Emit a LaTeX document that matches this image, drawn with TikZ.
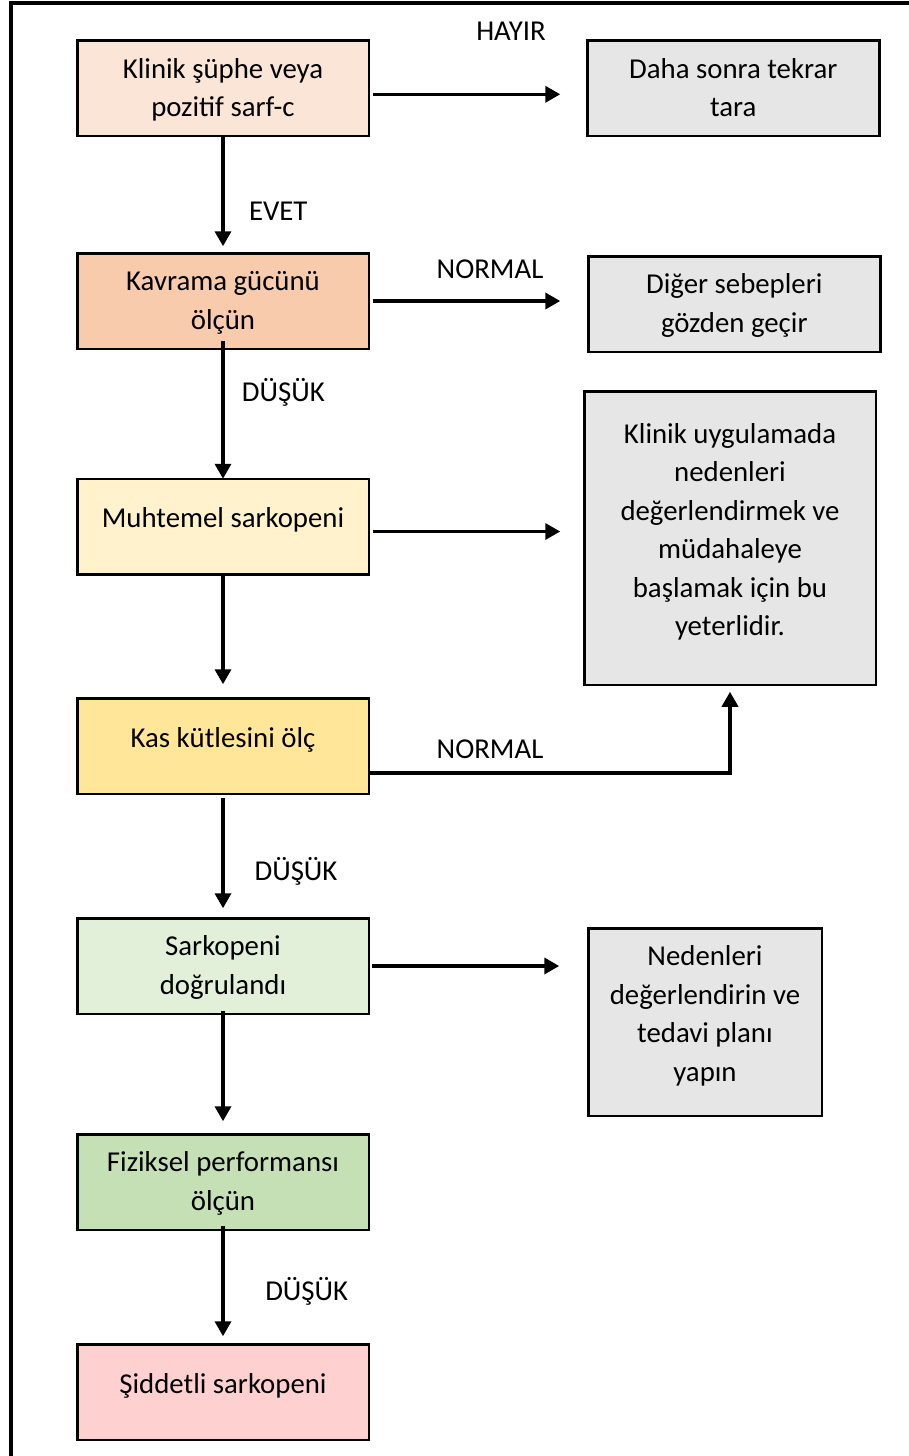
\documentclass[tikz,border=0pt]{standalone}
\usepackage{fontspec}
\setmainfont{Carlito}
\usetikzlibrary{arrows.meta,calc}
\definecolor{peachlight}{HTML}{FBE5D6}
\definecolor{peach}{HTML}{F8CBAD}
\definecolor{creamlight}{HTML}{FFF2CC}
\definecolor{cream}{HTML}{FFE699}
\definecolor{greenlight}{HTML}{E2F0D9}
\definecolor{sagegreen}{HTML}{C5E0B4}
\definecolor{rosepink}{HTML}{FFD0D0}
\definecolor{greybox}{HTML}{E6E6E6}
\newcommand{\boxlines}[1]{\begin{tabular}{@{}c@{}}#1\end{tabular}}

\begin{document}
\begin{tikzpicture}[y=1pt, x=1pt, yscale=-1, inner sep=0pt, outer sep=0pt,
  font=\fontsize{28.8pt}{38.4pt}\selectfont,
  box/.style={draw=black, line width=2.5pt, text height=15pt, text depth=0pt},
  leftbox/.style={box, minimum width=291.5pt, minimum height=95.5pt},
  single/.style={text height=-5pt},
  flow/.style={draw=black, line width=3.5pt, -{Triangle[length=15pt,width=16pt]}}]
  \useasboundingbox (0,0) rectangle (909,1456);
  \path[draw=black, line width=4pt] (10.5,3.3) rectangle (915,1462);

  \node[leftbox, fill=peachlight] (rect101) at (223,88.3)
    {\boxlines{Klinik şüphe veya\\pozitif sarf-c}};
  \node[leftbox, fill=peach] (rect102) at (223,301)
    {\boxlines{Kavrama gücünü\\ölçün}};
  \node[leftbox, single, fill=creamlight] (rect103) at (223,526.5)
    {\boxlines{Muhtemel sarkopeni}};
  \node[leftbox, single, fill=cream] (rect104) at (223,746)
    {\boxlines{Kas kütlesini ölç}};
  \node[leftbox, fill=greenlight] (rect105) at (223,966)
    {\boxlines{Sarkopeni\\doğrulandı}};
  \node[leftbox, fill=sagegreen] (rect106) at (223,1182)
    {\boxlines{Fiziksel performansı\\ölçün}};
  \node[leftbox, single, fill=rosepink] (rect107) at (223,1392)
    {\boxlines{Şiddetli sarkopeni}};

  \node[box, fill=greybox, minimum width=292pt, minimum height=95.5pt]
    (rect201) at (733.3,88.3) {\boxlines{Daha sonra tekrar\\tara}};
  \node[box, fill=greybox, minimum width=292pt, minimum height=95.5pt]
    (rect202) at (734.3,304) {\boxlines{Diğer sebepleri\\gözden geçir}};
  \node[box, single, fill=greybox, minimum width=291.5pt, minimum height=293.5pt]
    (rect203) at (730,538) {\boxlines{Klinik uygulamada\\nedenleri\\değerlendirmek ve\\müdahaleye\\başlamak için bu\\yeterlidir.}};
  \node[box, single, fill=greybox, minimum width=233.5pt, minimum height=187.5pt]
    (rect204) at (705,1022) {\boxlines{Nedenleri\\değerlendirin ve\\tedavi planı\\yapın}};

  \coordinate (path301) at ($(rect101.east)+(0,6)$);
  \coordinate (path303) at ($(rect103.east)+(0,5)$);
  \coordinate (path304) at ($(rect104.east)+(0,27)$);

  \draw[flow, shorten <=4pt, shorten >=27pt] (path301) -- (path301 -| rect201.west);
  \draw[flow, shorten <=4pt, shorten >=28pt] (rect102.east) -- (rect102.east -| rect202.west);
  \draw[flow, shorten <=4pt, shorten >=24pt] (path303) -- (path303 -| rect203.west);
  \draw[flow, shorten >=7pt] (path304) -| (rect203.south);
  \draw[flow, shorten <=3pt, shorten >=29pt] (rect105.east) -- (rect105.east -| rect204.west);

  \draw[flow, shorten >=7pt] (rect101.south) -- (rect102.north);
  \draw[flow, shorten <=-8pt] (rect102.south) -- (rect103.north);
  \draw[flow, shorten >=14pt] (rect103.south) -- (rect104.north);
  \draw[flow, shorten <=4pt, shorten >=10pt] (rect104.south) -- (rect105.north);
  \draw[flow, shorten <=-3pt, shorten >=13pt] (rect105.south) -- (rect106.north);
  \draw[flow, shorten <=-4pt, shorten >=8pt] (rect106.south) -- (rect107.north);

  \node[anchor=base] (text401) at (511,40) {HAYIR};
  \node[anchor=base] (text402) at (278.3,220) {EVET};
  \node[anchor=base] (text403) at (490,278) {NORMAL};
  \node[anchor=base] (text404) at (283.3,401.7) {DÜŞÜK};
  \node[anchor=base] (text405) at (490,758) {NORMAL};
  \node[anchor=base] (text406) at (296,880) {DÜŞÜK};
  \node[anchor=base] (text407) at (306.7,1300) {DÜŞÜK};
\end{tikzpicture}
\end{document}
